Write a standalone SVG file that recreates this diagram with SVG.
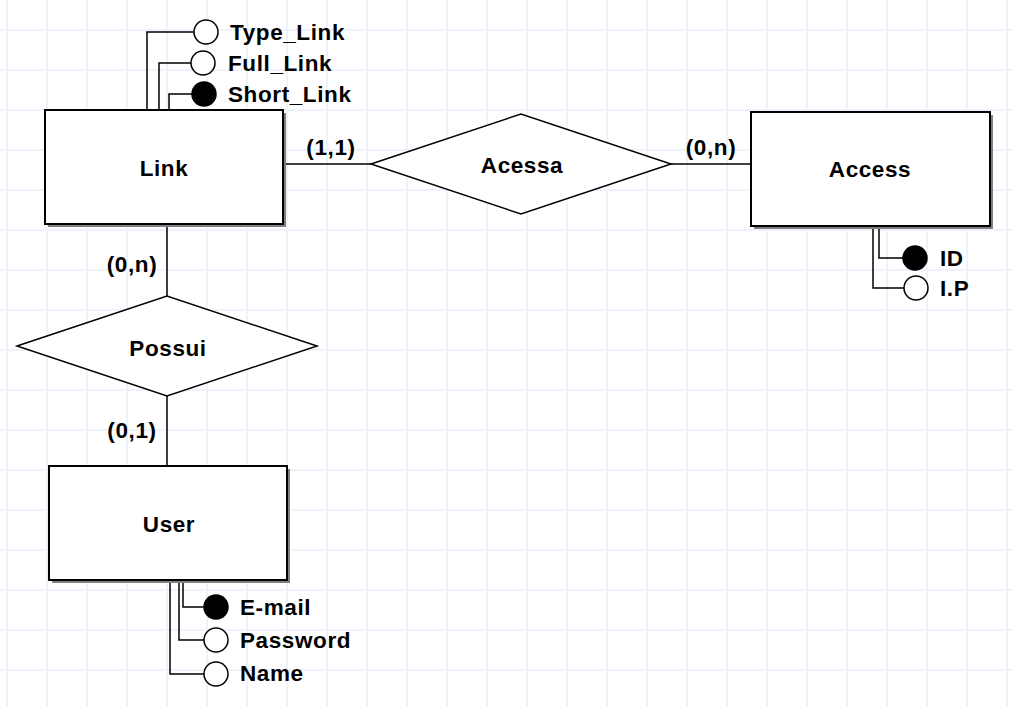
<svg xmlns="http://www.w3.org/2000/svg" width="1011" height="706" viewBox="0 0 1011 706">
<defs>
<pattern id="grid" x="-13" y="10" width="40" height="40" patternUnits="userSpaceOnUse">
<path d="M20 0V40M0 20H40" stroke="#eef2fa" stroke-width="2" fill="none"/>
</pattern>
</defs>
<style>
.ent{fill:#fff;stroke:#000;stroke-width:2}
.sh{fill:#808080}
.rel{fill:#fff;stroke:#000;stroke-width:1.5}
.ln{fill:none;stroke:#000;stroke-width:1.5}
.att{fill:#fff;stroke:#000;stroke-width:1.5}
.key{fill:#000;stroke:#000;stroke-width:1.5}
text{font-family:"Liberation Sans",Arial,sans-serif;font-weight:bold;font-size:22.5px;letter-spacing:0.6px;fill:#000}
.c{text-anchor:middle}
</style>
<rect width="1011" height="706" fill="#fff"/>
<rect width="1011" height="706" fill="url(#grid)"/>
<g id="connectors">
<path class="ln" d="M283 164H371"/>
<path class="ln" d="M671 164H751"/>
<path class="ln" d="M167 224V296"/>
<path class="ln" d="M167 396V466"/>
<path class="ln" d="M147 110V32H194"/>
<path class="ln" d="M159 110V63H191"/>
<path class="ln" d="M169 110V94H192"/>
<path class="ln" d="M879 226V258H903"/>
<path class="ln" d="M873 226V288H904"/>
<path class="ln" d="M183 580V607H204"/>
<path class="ln" d="M179 580V640H204"/>
<path class="ln" d="M170 580V674H204"/>
<text x="331" y="155" class="c">(1,1)</text>
<text x="711" y="155" class="c">(0,n)</text>
<text x="132" y="272" class="c">(0,n)</text>
<text x="132" y="438" class="c">(0,1)</text>
</g>
<g id="link">
<rect class="sh" x="48" y="113" width="238" height="114"/>
<rect class="ent" x="45" y="110" width="238" height="114"/>
<text x="164" y="176" class="c">Link</text>
</g>
<g id="access">
<rect class="sh" x="754" y="115" width="239" height="114"/>
<rect class="ent" x="751" y="112" width="239" height="114"/>
<text x="870" y="177" class="c">Access</text>
</g>
<g id="user">
<rect class="sh" x="52" y="469" width="238" height="114"/>
<rect class="ent" x="49" y="466" width="238" height="114"/>
<text x="169" y="532" class="c">User</text>
</g>
<g id="acessa">
<polygon class="rel" points="371,164 521,114 671,164 521,214"/>
<text x="522" y="173" class="c">Acessa</text>
</g>
<g id="possui">
<polygon class="rel" points="17,346 167,296 317,346 167,396"/>
<text x="168" y="356" class="c">Possui</text>
</g>
<g id="attr-type-link">
<circle class="att" cx="206" cy="32" r="12"/>
<text x="230" y="40">Type_Link</text>
</g>
<g id="attr-full-link">
<circle class="att" cx="203" cy="63" r="12"/>
<text x="228" y="71">Full_Link</text>
</g>
<g id="attr-short-link">
<circle class="key" cx="204" cy="94" r="12"/>
<text x="228" y="102">Short_Link</text>
</g>
<g id="attr-id">
<circle class="key" cx="915" cy="258" r="12"/>
<text x="940" y="266">ID</text>
</g>
<g id="attr-ip">
<circle class="att" cx="916" cy="288" r="12"/>
<text x="940" y="296">I.P</text>
</g>
<g id="attr-email">
<circle class="key" cx="216" cy="607" r="12"/>
<text x="240" y="615">E-mail</text>
</g>
<g id="attr-password">
<circle class="att" cx="216" cy="640" r="12"/>
<text x="240" y="648">Password</text>
</g>
<g id="attr-name">
<circle class="att" cx="216" cy="674" r="12"/>
<text x="240" y="681">Name</text>
</g>
</svg>
